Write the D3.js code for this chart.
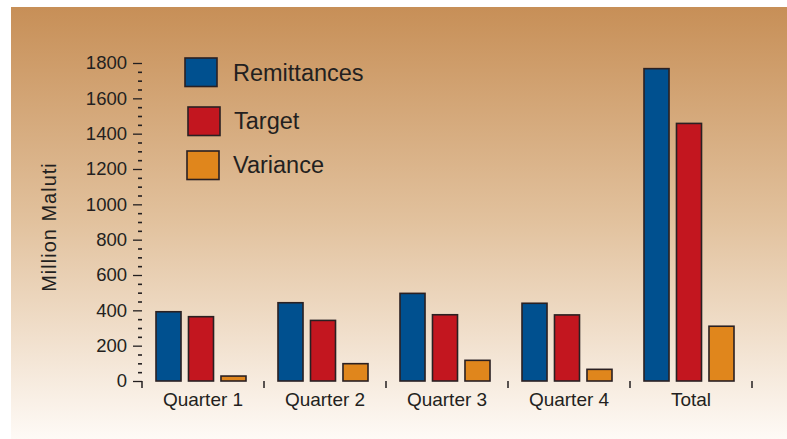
<!DOCTYPE html>
<html>
<head>
<meta charset="utf-8">
<script src="https://cdn.jsdelivr.net/npm/d3@7"></script>
<style>
  body { margin: 0; background: #fff; }
  svg text { font-family: "Liberation Sans", Arial, Helvetica, sans-serif; fill: #231f20; }
</style>
</head>
<body>
<svg id="chart" width="787" height="439"></svg>
<script>
  // data (million maluti)
  var categories = ["Quarter 1", "Quarter 2", "Quarter 3", "Quarter 4", "Total"];
  var series = ["Remittances", "Target", "Variance"];
  var remittances = [392, 443, 496, 440, 1768];
  var target = [364, 343, 375, 374, 1458];
  var variance = [28, 98, 117, 66, 310];
  var yMajor = [0, 200, 400, 600, 800, 1000, 1200, 1400, 1600, 1800];

  var colors = { "Remittances": "#00508f", "Target": "#c3161f", "Variance": "#e0861c" };
  var values = { "Remittances": remittances, "Target": target, "Variance": variance };

  var svg = d3.select("#chart");

  // background panel gradient
  var defs = svg.append("defs");
  var grad = defs.append("linearGradient").attr("id", "bg")
      .attr("x1", 0).attr("y1", 0).attr("x2", 0).attr("y2", 1);
  grad.append("stop").attr("offset", "0").attr("stop-color", "#c78f57");
  grad.append("stop").attr("offset", "0.5").attr("stop-color", "#e2c29e");
  grad.append("stop").attr("offset", "1").attr("stop-color", "#fefaf6");
  svg.append("rect").attr("x", 11).attr("y", 7).attr("width", 776).attr("height", 432)
      .attr("fill", "url(#bg)");

  var axisX = 142;
  var y = d3.scaleLinear().domain([0, 1800]).range([381, 63]);
  var x0 = d3.scaleBand().domain(categories).range([142, 752]);
  var x1 = d3.scaleBand().domain(series).range([14, 104]).paddingInner(0.23);

  // y axis: major ticks with labels, minor ticks every 50
  var minor = d3.range(0, 1801, 50).filter(function(v) { return v % 200 !== 0; });
  var gMinor = svg.append("g").attr("transform", "translate(" + axisX + ",0)")
      .call(d3.axisLeft(y).tickValues(minor).tickSize(4).tickFormat(""));
  gMinor.select(".domain").remove();
  gMinor.selectAll("line").attr("stroke", "#231f20").attr("stroke-width", 1.6);

  var gY = svg.append("g").attr("transform", "translate(" + axisX + ",0)")
      .call(d3.axisLeft(y).tickValues(yMajor).tickSize(9).tickPadding(6).tickFormat(d3.format("d")));
  gY.select(".domain").remove();
  gY.selectAll("line").attr("stroke", "#231f20").attr("stroke-width", 1.3);
  gY.selectAll("text").attr("font-size", 18.5).attr("font-family", null)
      .attr("fill", "#231f20");

  // x axis boundary ticks
  var bounds = categories.map(function(c) { return x0(c); }).concat([x0.range()[1]]);
  svg.append("g").selectAll("line").data(bounds).enter().append("line")
      .attr("x1", function(d) { return d; }).attr("x2", function(d) { return d; })
      .attr("y1", y(0)).attr("y2", y(0) + 7)
      .attr("stroke", "#231f20").attr("stroke-width", 1.5);

  var gX = svg.append("g").attr("transform", "translate(0," + y(0) + ")")
      .call(d3.axisBottom(x0).tickSize(0).tickPadding(12));
  gX.select(".domain").remove();
  gX.selectAll("text").attr("font-size", 19).attr("font-family", null)
      .attr("fill", "#231f20");

  // bars
  var groups = svg.append("g").selectAll("g").data(categories).enter().append("g")
      .attr("transform", function(c) { return "translate(" + x0(c) + ",0)"; });

  groups.selectAll("rect").data(function(c, i) {
      return series.map(function(s) { return { key: s, value: values[s][i] }; });
    }).enter().append("rect")
      .attr("x", function(d) { return x1(d.key); })
      .attr("y", function(d) { return y(d.value); })
      .attr("width", x1.bandwidth())
      .attr("height", function(d) { return y(0) - y(d.value); })
      .attr("fill", function(d) { return colors[d.key]; })
      .attr("stroke", "#2a2022").attr("stroke-width", 1.6);

  // legend
  var legendPos = [[185, 58, 233, 81], [188, 107, 234, 129], [187, 151, 233, 173]];
  var legend = svg.append("g").selectAll("g").data(series).enter().append("g");
  legend.append("rect")
      .attr("x", function(d, i) { return legendPos[i][0]; })
      .attr("y", function(d, i) { return legendPos[i][1]; })
      .attr("width", 32).attr("height", 28.5)
      .attr("fill", function(d) { return colors[d]; })
      .attr("stroke", "#2a2022").attr("stroke-width", 1.6);
  legend.append("text")
      .attr("x", function(d, i) { return legendPos[i][2]; })
      .attr("y", function(d, i) { return legendPos[i][3]; })
      .attr("font-size", 23.5)
      .text(function(d) { return d; });

  // y axis title
  svg.append("text")
      .attr("transform", "translate(56,227) rotate(-90)")
      .attr("text-anchor", "middle")
      .attr("font-size", 20).style("letter-spacing", "1px")
      .text("Million Maluti");
</script>
</body>
</html>
